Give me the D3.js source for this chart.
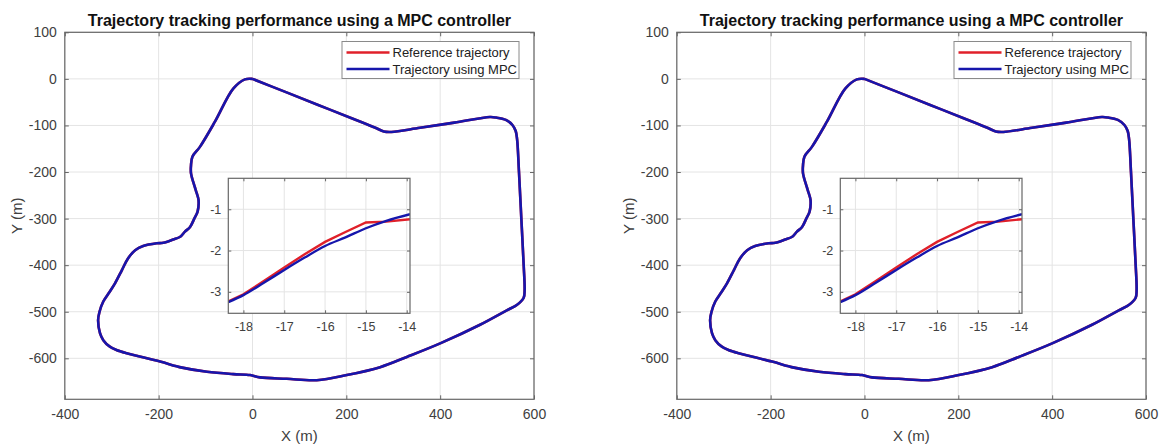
<!DOCTYPE html>
<html>
<head>
<meta charset="utf-8">
<script src="https://cdn.jsdelivr.net/npm/d3@7"></script>
<style>
  html, body { margin: 0; padding: 0; background: #ffffff; }
  svg { display: block; font-family: "Liberation Sans", Arial, sans-serif; }
</style>
</head>
<body>
<svg id="chart" width="1162" height="446"></svg>
<script>
// ---------- data ----------
const titleText = "Trajectory tracking performance using a MPC controller";
const xLabelText = "X (m)";
const yLabelText = "Y (m)";
const legendLabels = ["Reference trajectory", "Trajectory using MPC"];

// main trajectory (m)
const trackX = [0, 70, 140, 210, 262, 280, 296, 357, 430, 506, 519, 540, 554, 561, 564, 568, 573, 578, 580, 578, 564, 542, 485, 400, 329, 272, 201, 137, 73, 16, -5, -41, -97, -150, -197, -268, -290, -304, -318, -325, -329, -326, -318, -305, -293, -278, -265, -250, -233, -204, -190, -169, -154, -144, -133, -124, -117, -115, -119, -123, -131, -131, -128, -112, -80, -41, -16, 0];
const trackY = [0, -28, -56, -84, -105, -113, -114, -105, -94, -82, -83, -88, -99, -112, -130, -200, -300, -400, -453, -470, -485, -497, -528, -568, -597, -619, -636, -647, -644, -641, -636, -634, -629, -620, -607, -589, -582, -575, -561, -546, -518, -500, -478, -458, -439, -410, -385, -368, -359, -353, -352, -345, -339, -328, -318, -300, -285, -260, -245, -232, -203, -185, -167, -146, -92, -21, -1, 0];

// inset (zoomed view) data
const insetRefX = [-18.37, -18, -17.5, -17, -16.5, -16, -15.5, -15, -14.5, -13.92];
const insetRefY = [-3.23, -3.06, -2.74, -2.41, -2.09, -1.79, -1.55, -1.32, -1.30, -1.24];
const insetMpcX = [-18.37, -18, -17.5, -17, -16.5, -16, -15.5, -15, -14.5, -13.92];
const insetMpcY = [-3.25, -3.08, -2.78, -2.47, -2.17, -1.89, -1.68, -1.46, -1.28, -1.12];

const mainXTicks = [-400, -200, 0, 200, 400, 600];
const mainYTicks = [100, 0, -100, -200, -300, -400, -500, -600];
const insetXTicks = [-18, -17, -16, -15, -14];
const insetYTicks = [-1, -2, -3];

const mainXDomain = [-400, 600];
const mainYDomain = [-688, 100];
const insetXDomain = [-18.37, -13.92];
const insetYDomain = [-3.52, -0.25];

// ---------- style ----------
const RED = "#e0202a";
const BLUE = "#1616ac";
const AXIS = "#666666";
const GRID = "#e4e4e4";
const TEXT = "#404040";

const svg = d3.select("#chart");

function drawChart(ox) {
  const L = ox + 64.8, R = ox + 534, T = 32.3, B = 399.3;
  const g = svg.append("g");

  const x = d3.scaleLinear().domain(mainXDomain).range([L, R]);
  const y = d3.scaleLinear().domain(mainYDomain).range([B, T]);

  // grid
  g.append("g").selectAll("line").data(mainXTicks).join("line")
    .attr("x1", d => x(d)).attr("x2", d => x(d)).attr("y1", T).attr("y2", B)
    .attr("stroke", GRID).attr("stroke-width", 1);
  g.append("g").selectAll("line").data(mainYTicks).join("line")
    .attr("x1", L).attr("x2", R).attr("y1", d => y(d)).attr("y2", d => y(d))
    .attr("stroke", GRID).attr("stroke-width", 1);

  // axes (ticks inward)
  const ax = g.append("g").attr("transform", `translate(0,${B})`)
    .call(d3.axisBottom(x).tickValues(mainXTicks).tickSizeInner(-4).tickSizeOuter(0).tickPadding(10));
  const ay = g.append("g").attr("transform", `translate(${L},0)`)
    .call(d3.axisLeft(y).tickValues(mainYTicks).tickSizeInner(-4).tickSizeOuter(0).tickPadding(8));
  const axT = g.append("g").attr("transform", `translate(0,${T})`)
    .call(d3.axisTop(x).tickValues(mainXTicks).tickSizeInner(-4).tickSizeOuter(0).tickFormat(""));
  const ayR = g.append("g").attr("transform", `translate(${R},0)`)
    .call(d3.axisRight(y).tickValues(mainYTicks).tickSizeInner(-4).tickSizeOuter(0).tickFormat(""));
  [ax, ay, axT, ayR].forEach(a => {
    a.select(".domain").remove();
    a.selectAll(".tick line").attr("stroke", AXIS);
    a.selectAll("text").attr("fill", TEXT).style("font-size", "14px")
      .style("font-family", "'Liberation Sans', Arial, sans-serif");
  });
  ax.selectAll("text").text(d => String(d));
  ay.selectAll("text").text(d => String(d));

  g.append("rect").attr("x", L).attr("y", T).attr("width", R - L).attr("height", B - T)
    .attr("fill", "none").attr("stroke", AXIS).attr("stroke-width", 1.2);

  // trajectories
  const pts = trackX.map((v, i) => [v, trackY[i]]);
  const line = d3.line().x(d => x(d[0])).y(d => y(d[1])).curve(d3.curveCatmullRom.alpha(0.5));
  g.append("path").attr("d", line(pts)).attr("fill", "none").attr("stroke", RED).attr("stroke-width", 2.6);
  g.append("path").attr("d", line(pts)).attr("fill", "none").attr("stroke", BLUE).attr("stroke-width", 2.6)
    .attr("stroke-linejoin", "round");

  // title & labels
  g.append("text").attr("x", (L + R) / 2).attr("y", 26).attr("text-anchor", "middle")
    .attr("fill", "#111").style("font-weight", "bold").style("font-size", "16px").text(titleText);
  g.append("text").attr("x", (L + R) / 2).attr("y", 441).attr("text-anchor", "middle")
    .attr("fill", TEXT).style("font-size", "15px").text(xLabelText);
  g.append("text").attr("transform", `translate(${ox + 22},${(T + B) / 2}) rotate(-90)`)
    .attr("text-anchor", "middle").attr("fill", TEXT).style("font-size", "15px").text(yLabelText);

  // legend
  const lg = g.append("g");
  lg.append("rect").attr("x", ox + 342).attr("y", 41.5).attr("width", 177).attr("height", 37)
    .attr("fill", "#fff").attr("stroke", "#8a8a8a").attr("stroke-width", 1);
  [RED, BLUE].forEach((c, i) => {
    const yy = 52.5 + i * 16.5;
    lg.append("line").attr("x1", ox + 346.5).attr("x2", ox + 389.5).attr("y1", yy).attr("y2", yy)
      .attr("stroke", c).attr("stroke-width", 2.6);
    lg.append("text").attr("x", ox + 392.5).attr("y", yy + 4.5).attr("fill", "#222")
      .style("font-size", "13px").text(legendLabels[i]);
  });

  // inset
  const iL = ox + 228.3, iR = ox + 410, iT = 178.3, iB = 313.3;
  const ix = d3.scaleLinear().domain(insetXDomain).range([iL, iR]);
  const iy = d3.scaleLinear().domain(insetYDomain).range([iB, iT]);
  const ig = g.append("g");
  ig.append("rect").attr("x", iL).attr("y", iT).attr("width", iR - iL).attr("height", iB - iT).attr("fill", "#fff");
  ig.append("g").selectAll("line").data(insetXTicks).join("line")
    .attr("x1", d => ix(d)).attr("x2", d => ix(d)).attr("y1", iT).attr("y2", iB)
    .attr("stroke", GRID).attr("stroke-width", 1);
  ig.append("g").selectAll("line").data(insetYTicks).join("line")
    .attr("x1", iL).attr("x2", iR).attr("y1", d => iy(d)).attr("y2", d => iy(d))
    .attr("stroke", GRID).attr("stroke-width", 1);
  const iax = ig.append("g").attr("transform", `translate(0,${iB})`)
    .call(d3.axisBottom(ix).tickValues(insetXTicks).tickSizeInner(-3).tickSizeOuter(0).tickPadding(9));
  const iay = ig.append("g").attr("transform", `translate(${iL},0)`)
    .call(d3.axisLeft(iy).tickValues(insetYTicks).tickSizeInner(-3).tickSizeOuter(0).tickPadding(7));
  const iaxT = ig.append("g").attr("transform", `translate(0,${iT})`)
    .call(d3.axisTop(ix).tickValues(insetXTicks).tickSizeInner(-3).tickSizeOuter(0).tickFormat(""));
  const iayR = ig.append("g").attr("transform", `translate(${iR},0)`)
    .call(d3.axisRight(iy).tickValues(insetYTicks).tickSizeInner(-3).tickSizeOuter(0).tickFormat(""));
  [iax, iay, iaxT, iayR].forEach(a => {
    a.select(".domain").remove();
    a.selectAll(".tick line").attr("stroke", AXIS);
    a.selectAll("text").attr("fill", TEXT).style("font-size", "12.5px")
      .style("font-family", "'Liberation Sans', Arial, sans-serif");
  });
  iax.selectAll("text").text(d => String(d));
  iay.selectAll("text").text(d => String(d));

  const clipId = "clip" + Math.round(ox);
  ig.append("clipPath").attr("id", clipId).append("rect")
    .attr("x", iL).attr("y", iT).attr("width", iR - iL).attr("height", iB - iT);
  const iline = d3.line().x(d => ix(d[0])).y(d => iy(d[1]));
  ig.append("path").attr("clip-path", `url(#${clipId})`)
    .attr("d", iline(insetRefX.map((v, i) => [v, insetRefY[i]])))
    .attr("fill", "none").attr("stroke", RED).attr("stroke-width", 2.4);
  ig.append("path").attr("clip-path", `url(#${clipId})`)
    .attr("d", d3.line().x(d => ix(d[0])).y(d => iy(d[1])).curve(d3.curveMonotoneX)(insetMpcX.map((v, i) => [v, insetMpcY[i]])))
    .attr("fill", "none").attr("stroke", BLUE).attr("stroke-width", 2.4);
  ig.append("rect").attr("x", iL).attr("y", iT).attr("width", iR - iL).attr("height", iB - iT)
    .attr("fill", "none").attr("stroke", AXIS).attr("stroke-width", 1.2);
}

drawChart(0);
drawChart(612);
</script>
</body>
</html>
